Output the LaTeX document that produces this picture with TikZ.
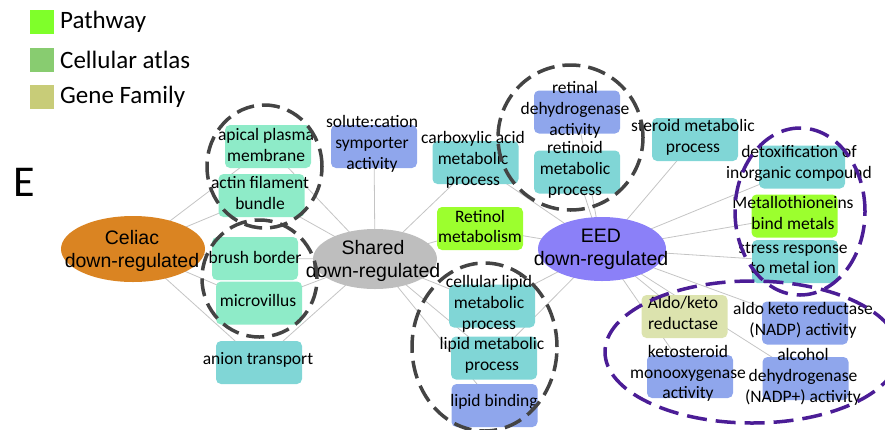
\documentclass[tikz,border=0pt]{standalone}
\usepackage{fontspec}
\newfontfamily\carl{Carlito}
\newfontfamily\arl{Liberation Sans}
\usetikzlibrary{shapes.geometric,backgrounds}
\definecolor{mint}{HTML}{8EEBC8}
\definecolor{teal}{HTML}{80D6D6}
\definecolor{blu}{HTML}{8FA6EC}
\definecolor{pgreen}{HTML}{9CFF2E}
\definecolor{gfam}{HTML}{DCE3AE}
\definecolor{lgpath}{HTML}{7FFF2A}
\definecolor{lgcell}{HTML}{88CC70}
\definecolor{lggene}{HTML}{C8CC78}
\definecolor{celiac}{HTML}{DA8422}
\definecolor{shared}{HTML}{BEBEBE}
\definecolor{eed}{HTML}{8B80F8}
\definecolor{edgec}{HTML}{C4C4C4}
\definecolor{dgray}{HTML}{444444}
\definecolor{dpurp}{HTML}{4B1D96}
\tikzset{
  box/.style={rectangle, rounded corners=5pt, minimum width=86pt, minimum height=43pt, inner sep=0pt, draw=none},
  lbl/.style={align=center, inner sep=0pt, font=\carl\fontsize{17.5}{20.7}\selectfont},
  hub/.style={ellipse, inner sep=0pt, draw=none},
  hubtxt/.style={align=center, inner sep=0pt, font=\arl\fontsize{19.5}{23}\selectfont},
  edge/.style={draw=edgec, line width=0.8pt},
  grp/.style={draw=dgray, line width=3.5pt, dash pattern=on 18pt off 8pt},
  pgrp/.style={draw=dpurp, line width=3.5pt, dash pattern=on 20pt off 9pt},
  legsq/.style={rectangle, minimum size=24pt, inner sep=0pt, anchor=north west},
  legtxt/.style={anchor=west, inner sep=0pt, font=\carl\fontsize{25}{30}\selectfont}
}
\newcommand\bx[5]{\node[box, fill=#3] (#1) at (#2) {};\node[lbl] at (#4) {#5};}
\begin{document}
\begin{tikzpicture}[x=1pt,y=-1pt]
\useasboundingbox (0,0) rectangle (885,429);
% legend
\node[legsq, fill=lgpath] (lg1) at (30,10) {};
\node[legtxt] (lt1) at (60,22) {Pathway};
\node[legsq, fill=lgcell] (lg2) at (30,48) {};
\node[legtxt] (lt2) at (60,60) {Cellular atlas};
\node[legsq, fill=lggene] (lg3) at (30,85) {};
\node[legtxt] (lt3) at (60,97) {Gene Family};
\node[inner sep=0pt, font=\carl\fontsize{44}{50}\selectfont] (E) at (24,182) {E};
% hubs
\node[hub, fill=celiac, minimum width=144pt, minimum height=66pt] (celiac) at (133,249) {};
\node[hubtxt] at (132,251) {Celiac\\down-regulated};
\node[hub, fill=shared, minimum width=124pt, minimum height=60pt] (shared) at (375,259) {};
\node[hubtxt] at (373,261) {Shared\\down-regulated};
\node[hub, fill=eed, minimum width=128pt, minimum height=64pt] (eed) at (602,249) {};
\node[hubtxt] at (601,249) {EED\\down-regulated};
% boxes
\bx{apical}{268,146.5}{mint}{266,145}{apical plasma\\membrane}
\bx{actin}{261.5,195.5}{mint}{260,193}{actin filament\\bundle}
\bx{brush}{255,258.5}{mint}{255,257}{brush border}
\bx{micro}{259,303}{mint}{258,300}{microvillus}
\bx{anion}{259,362.5}{teal}{258,360}{anion transport}
\bx{solute}{374,146.5}{blu}{372,144}{solute:cation\\symporter\\activity}
\bx{carbox}{475.5,162.5}{teal}{473,160}{carboxylic acid\\metabolic\\process}
\bx{retinol}{480,228.5}{pgreen}{480,226.5}{Retinol\\metabolism}
\bx{retinal}{577,112}{blu}{575,110}{retinal\\dehydrogenase\\activity}
\bx{retinoid}{577,172}{teal}{575,170}{retinoid\\metabolic\\process}
\bx{steroid}{695,139.5}{teal}{693,137.5}{steroid metabolic\\process}
\bx{detox}{802,167}{teal}{799,163.5}{detoxification of\\inorganic compound}
\bx{metallo}{794.5,216}{pgreen}{793,213}{Metallothioneins\\bind metals}
\bx{stress}{795,261.5}{teal}{793,258}{stress response\\to metal ion}
\bx{cellipid}{492,306}{teal}{489,304}{cellular lipid\\metabolic\\process}
\bx{lipmet}{494,358}{teal}{492,355.5}{lipid metabolic\\process}
\bx{lipbind}{494.5,405.5}{blu}{494,402}{lipid binding}
\bx{aldofam}{684.5,316.5}{gfam}{683,313}{Aldo/keto\\reductase}
\bx{aldonadp}{805,323}{blu}{803,320}{aldo keto reductase\\(NADP) activity}
\bx{keto}{690,376.5}{blu}{688,373.5}{ketosteroid\\monooxygenase\\activity}
\bx{alcohol}{805.5,378.5}{blu}{803,377}{alcohol\\dehydrogenase\\(NADP+) activity}
% edges
\begin{pgfonlayer}{background}
\foreach \t in {apical,actin,brush,micro,anion}
  \draw[edge] (celiac.center) -- (\t.center);
\foreach \t in {apical,actin,brush,micro,anion,solute,carbox,retinol,cellipid,lipmet,lipbind}
  \draw[edge] (shared.center) -- (\t.center);
\foreach \t in {carbox,retinol,retinal,retinoid,steroid,detox,metallo,stress,aldofam,aldonadp,keto,alcohol,cellipid,lipmet}
  \draw[edge] (eed.center) -- (\t.center);
\end{pgfonlayer}
% group outlines
\draw[grp] (264.5,166.5) ellipse [x radius=57.5pt, y radius=61.5pt];
\draw[grp] (259.5,278.5) ellipse [x radius=57.5pt, y radius=58.5pt];
\draw[grp] (570.5,137.5) ellipse [x radius=72.5pt, y radius=72.5pt];
\draw[grp] (484.5,347) ellipse [x radius=72.5pt, y radius=84pt];
\draw[pgrp] (800,211.5) ellipse [x radius=65pt, y radius=83.5pt];
\draw[pgrp] (752,352) ellipse [x radius=147pt, y radius=71pt];
\end{tikzpicture}
\end{document}
